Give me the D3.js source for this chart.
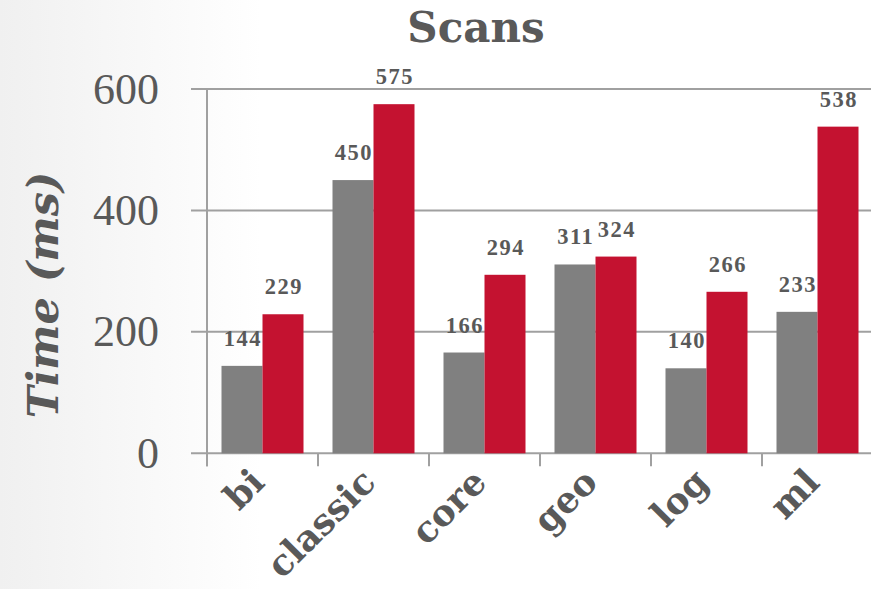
<!DOCTYPE html>
<html>
<head>
<meta charset="utf-8">
<script src="https://cdn.jsdelivr.net/npm/d3@7"></script>
<style>
  html, body { margin: 0; padding: 0; background: #fff; }
  svg { display: block; }
</style>
</head>
<body>
<svg id="chart" width="871" height="589"></svg>
<script>
const categories = ["bi", "classic", "core", "geo", "log", "ml"];
const seriesNames = ["baseline", "new"];
const grayValues = [144, 450, 166, 311, 140, 233];
const redValues = [229, 575, 294, 324, 266, 538];
const yTicks = [0, 200, 400, 600];
const titleText = "Scans";
const yLabelText = "Time (ms)";

const W = 871, H = 589;
const svg = d3.select("#chart");
const textColor = "#595959";
const gridColor = "#a0a0a0";
const colors = { baseline: "#808080", new: "#c41230" };

// background gradient
const defs = svg.append("defs");
const grad = defs.append("linearGradient").attr("id", "bg").attr("x1", "0").attr("x2", "1").attr("y1", "0").attr("y2", "0");
grad.append("stop").attr("offset", "0").attr("stop-color", "#f0f0f0");
grad.append("stop").attr("offset", "0.3").attr("stop-color", "#ffffff");
grad.append("stop").attr("offset", "1").attr("stop-color", "#ffffff");
svg.append("rect").attr("width", W).attr("height", H).attr("fill", "url(#bg)");

const plotLeft = 207, plotRight = 873, plotTop = 89, plotBottom = 453.3;

const x = d3.scaleBand().domain(categories).range([plotLeft, plotRight]).padding(0);
const pad = 14.5;
const x1 = d3.scaleBand().domain(seriesNames).range([pad, x.bandwidth() - pad]).padding(0);
const y = d3.scaleLinear().domain([0, 600]).range([plotBottom, plotTop]);

// gridlines
const g = svg.append("g");
g.selectAll("line.grid").data(yTicks).join("line")
  .attr("class", "grid")
  .attr("x1", plotLeft - 16).attr("x2", W)
  .attr("y1", d => y(d)).attr("y2", d => y(d))
  .attr("stroke", gridColor).attr("stroke-width", 2);

// y axis line
g.append("line")
  .attr("x1", plotLeft).attr("x2", plotLeft)
  .attr("y1", y(600)).attr("y2", plotBottom + 13)
  .attr("stroke", gridColor).attr("stroke-width", 2);

// x ticks at band boundaries
const boundaries = categories.map(c => x(c));
g.selectAll("line.xtick").data(boundaries).join("line")
  .attr("class", "xtick")
  .attr("x1", d => d).attr("x2", d => d)
  .attr("y1", plotBottom).attr("y2", plotBottom + 13)
  .attr("stroke", gridColor).attr("stroke-width", 2);

// y tick labels
g.selectAll("text.ytick").data(yTicks).join("text")
  .attr("class", "ytick")
  .attr("x", 159).attr("y", d => y(d))
  .attr("dy", "0.33em")
  .attr("text-anchor", "end")
  .attr("fill", textColor)
  .style("font-family", "'Liberation Serif', serif")
  .style("font-size", "44px")
  .text(d => d);

// bars
const data = categories.map((c, i) => ({ cat: c, vals: [
  { s: "baseline", v: grayValues[i] },
  { s: "new", v: redValues[i] }
]}));

const groups = svg.append("g").selectAll("g").data(data).join("g")
  .attr("transform", d => `translate(${x(d.cat)},0)`);

groups.selectAll("rect").data(d => d.vals).join("rect")
  .attr("x", d => x1(d.s))
  .attr("width", x1.bandwidth())
  .attr("y", d => y(d.v))
  .attr("height", d => plotBottom - y(d.v))
  .attr("fill", d => colors[d.s]);

groups.selectAll("text").data(d => d.vals).join("text")
  .attr("x", d => x1(d.s) + x1.bandwidth() / 2 + 0.75)
  .attr("y", d => y(d.v) - 20)
  .attr("text-anchor", "middle")
  .attr("fill", textColor)
  .style("font-family", "'Liberation Serif', serif")
  .style("font-weight", "bold")
  .style("font-size", "22.5px")
  .style("letter-spacing", "1.5px")
  .text(d => d.v);

// x labels
svg.append("g").selectAll("text").data(categories).join("text")
  .attr("transform", d => `translate(${x(d) + x.bandwidth() / 2 + 4},${plotBottom + 31}) rotate(-45)`)
  .attr("text-anchor", "end")
  .attr("fill", textColor)
  .style("font-family", "'DejaVu Serif', serif")
  .style("font-weight", "bold")
  .style("font-size", "36px")
  .text(d => d);

// title
svg.append("text")
  .attr("x", 476).attr("y", 42)
  .attr("text-anchor", "middle")
  .attr("fill", textColor)
  .style("font-family", "'DejaVu Serif', serif")
  .style("font-weight", "bold")
  .style("font-size", "42px")
  .text(titleText);

// y label
svg.append("text")
  .attr("transform", "translate(58,295) rotate(-90)")
  .attr("text-anchor", "middle")
  .attr("fill", textColor)
  .style("font-family", "'DejaVu Serif', serif")
  .style("font-weight", "bold")
  .style("font-style", "italic")
  .style("font-size", "43px")
  .text(yLabelText);
</script>
</body>
</html>
